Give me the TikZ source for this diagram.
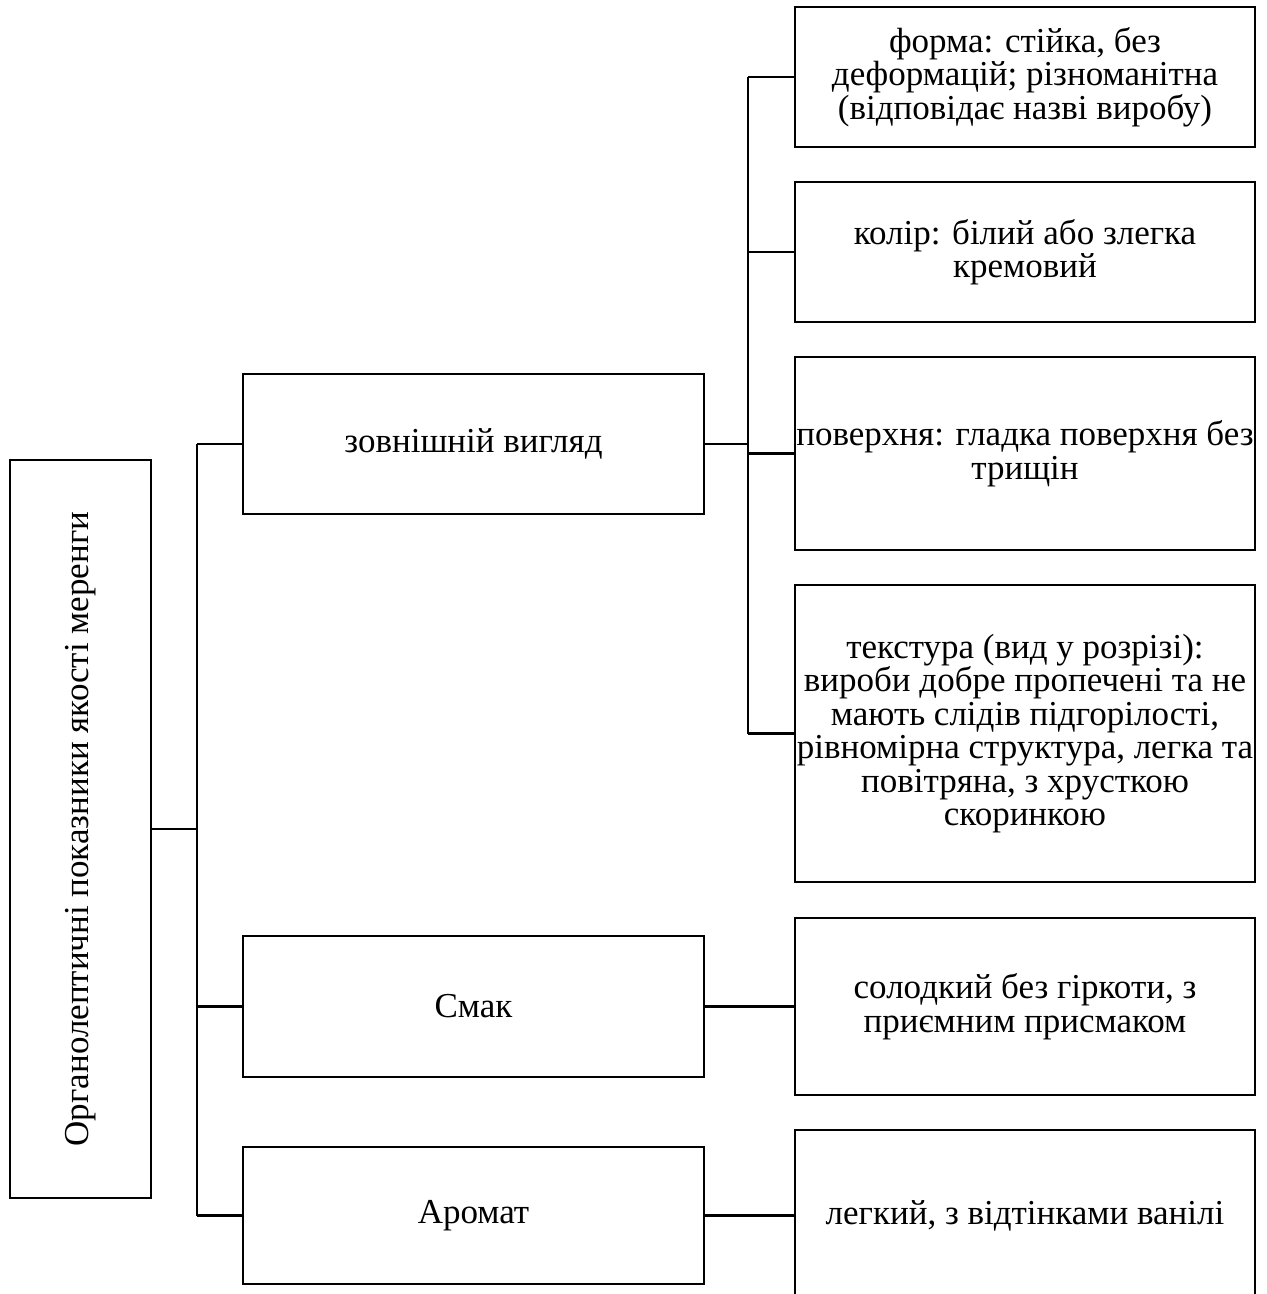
\documentclass[tikz,border=0pt]{standalone}
\usepackage{fontspec}
\setmainfont{Liberation Serif}
\begin{document}
\begin{tikzpicture}[x=1pt,y=-1pt,
  box/.style={draw, line width=2.6pt, align=center, inner sep=0pt, font=\fontsize{35}{33.5}\selectfont},
  conn/.style={line width=2.6pt}]
\useasboundingbox (0,0) rectangle (1267,1294);
\node[box, minimum width=738pt, minimum height=141pt, rotate=90] (L) at (80.5,829) {Органолептичні показники якості меренги};
\node[box, minimum width=461pt, minimum height=140pt] (Z) at (473.5,444) {зовнішній вигляд};
\node[box, minimum width=461pt, minimum height=141pt] (S) at (473.5,1006.5) {Смак};
\node[box, minimum width=461pt, minimum height=137pt] (A) at (473.5,1215.5) {Аромат};
\node[box, minimum width=460pt, minimum height=140pt] (F) at (1025,77) {форма: стійка, без\\деформацій; різноманітна\\(відповідає назві виробу)};
\node[box, minimum width=460pt, minimum height=140pt] (K) at (1025,252) {колір: білий або злегка\\кремовий};
\node[box, minimum width=460pt, minimum height=193pt] (P) at (1025,453.5) {поверхня: гладка поверхня без\\трищін};
\node[box, minimum width=460pt, minimum height=297pt] (T) at (1025,733.5) {текстура (вид у розрізі):\\вироби добре пропечені та не\\мають слідів підгорілості,\\рівномірна структура, легка та\\повітряна, з хрусткою\\скоринкою};
\node[box, minimum width=460pt, minimum height=177pt] (SL) at (1025,1006.5) {солодкий без гіркоти, з\\приємним присмаком};
\node[box, minimum width=460pt, minimum height=171pt] (LG) at (1025,1215.5) {легкий, з відтінками ванілі};
\coordinate (t1) at (197,0);
\coordinate (t2) at (748,0);
\draw[conn] (L.south) -- (L.south -| t1);
\draw[conn] (Z.west -| t1) -- (A.west -| t1);
\draw[conn] (Z.west -| t1) -- (Z.west);
\draw[conn] (S.west -| t1) -- (S.west);
\draw[conn] (A.west -| t1) -- (A.west);
\draw[conn] (Z.east) -- (Z.east -| t2);
\draw[conn] (F.west -| t2) -- (T.west -| t2);
\draw[conn] (F.west -| t2) -- (F.west);
\draw[conn] (K.west -| t2) -- (K.west);
\draw[conn] (P.west -| t2) -- (P.west);
\draw[conn] (T.west -| t2) -- (T.west);
\draw[conn] (S.east) -- (SL.west);
\draw[conn] (A.east) -- (LG.west);
\end{tikzpicture}
\end{document}
